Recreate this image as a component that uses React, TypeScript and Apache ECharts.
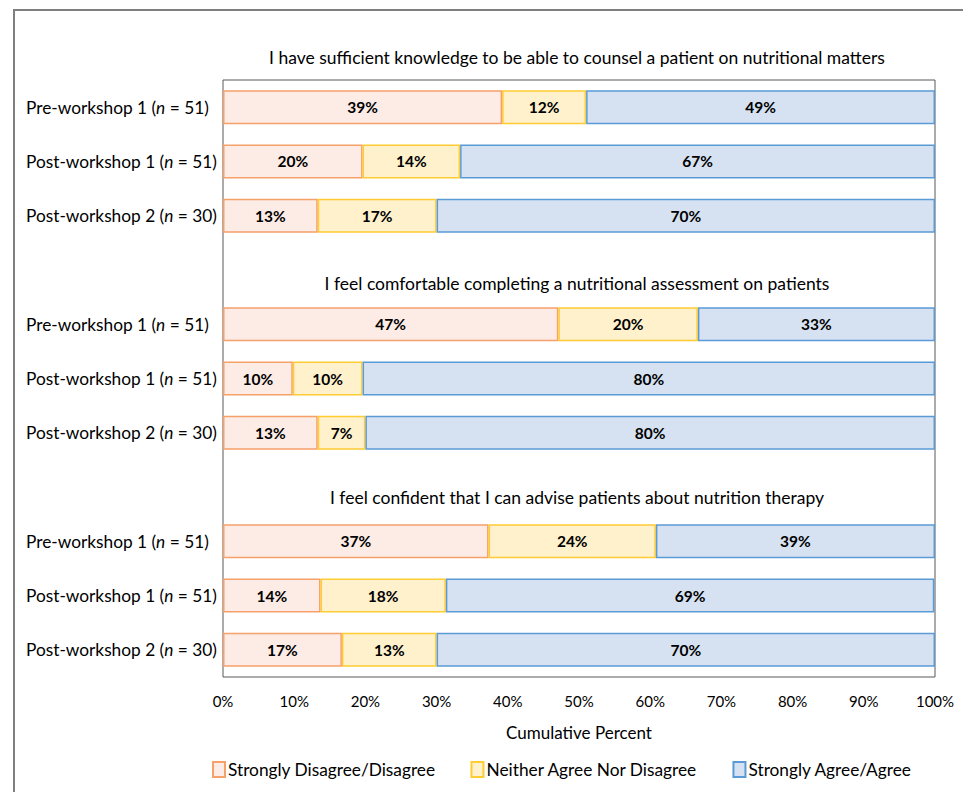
import React, { useEffect, useRef } from "react";
import * as echarts from "echarts";

const questions = [
  "I have sufficient knowledge to be able to counsel a patient on nutritional matters",
  "I feel comfortable completing a nutritional assessment on patients",
  "I feel confident that I can advise patients about nutrition therapy",
];
const groupNames = ["Pre-workshop 1", "Post-workshop 1", "Post-workshop 2"];
const sampleSizes = [51, 51, 30];
const seriesNames = ["Strongly Disagree/Disagree", "Neither Agree Nor Disagree", "Strongly Agree/Agree"];
// [question][group]
const disagree = [
  [39.2, 19.6, 13.3],
  [47.1, 9.8, 13.3],
  [37.3, 13.7, 16.7],
];
const neutral = [
  [11.8, 13.7, 16.7],
  [19.6, 9.8, 6.7],
  [23.5, 17.6, 13.3],
];
const agree = [
  [49.0, 66.7, 70.0],
  [33.3, 80.4, 80.0],
  [39.2, 68.6, 70.0],
];
const xTicks = [0, 10, 20, 30, 40, 50, 60, 70, 80, 90, 100];

const FONT = "Lato, 'Open Sans', sans-serif";

export default function App() {
  const ref = useRef<HTMLDivElement>(null);
  useEffect(() => {
    if (!ref.current) return;
    const chart = echarts.init(ref.current, undefined, { renderer: "svg" });

    const cats: string[] = [];
    const labelMap: Record<string, { g: string; n: number } | null> = {};
    const build = (arr: number[][]) => {
      const out: (number | string)[] = [];
      arr.forEach((row, q) => {
        row.forEach((v) => out.push(v));
        if (q < arr.length - 1) out.push("-");
      });
      return out;
    };
    questions.forEach((_, q) => {
      groupNames.forEach((g, r) => {
        const key = `q${q}r${r}`;
        cats.push(key);
        labelMap[key] = { g, n: sampleSizes[r] };
      });
      if (q < questions.length - 1) {
        const key = `gap${q}`;
        cats.push(key);
        labelMap[key] = null;
      }
    });

    const fills = ["#FDEBE5", "#FEF1CB", "#D6E2F2"];
    const borders = ["#F6A06A", "#FFCC33", "#5B9BD5"];
    const datasets = [disagree, neutral, agree];

    const titleY = [57, 283, 497];

    chart.setOption({
      animation: false,
      textStyle: { fontFamily: FONT },
      grid: {
        left: 223,
        right: 28,
        top: 80,
        bottom: 115,
        show: true,
        borderColor: "#595959",
        borderWidth: 1,
        backgroundColor: "transparent",
      },
      xAxis: {
        type: "value",
        min: 0,
        max: 100,
        interval: 10,
        axisLine: { show: false },
        axisTick: { show: false },
        splitLine: { show: false },
        axisLabel: {
          formatter: (v: number) => (xTicks.includes(v) ? `${v}%` : ""),
          fontSize: 15,
          color: "#000",
          margin: 16,
          fontFamily: FONT,
        },
        name: "Cumulative Percent",
        nameLocation: "middle",
        nameGap: 47,
        nameTextStyle: { fontSize: 17, color: "#000", fontFamily: FONT },
      },
      yAxis: {
        type: "category",
        inverse: true,
        data: cats,
        axisLine: { show: false },
        axisTick: { show: false },
        splitLine: { show: false },
        axisLabel: {
          interval: 0,
          align: "left",
          margin: 197,
          fontSize: 17.3,
          color: "#000",
          fontFamily: FONT,
          formatter: (key: string) => {
            const m = labelMap[key];
            if (!m) return "";
            return `${m.g} ({i|n} = ${m.n})`;
          },
          rich: {
            i: { fontStyle: "italic", fontSize: 17.3, color: "#000", fontFamily: FONT },
          },
        },
      },
      legend: {
        bottom: 9,
        left: 207,
        itemGap: 35,
        itemWidth: 12,
        itemHeight: 15,
        icon: "rect",
        textStyle: { fontSize: 17.3, color: "#000", fontFamily: FONT, padding: [0, 0, 0, -2] },
        data: seriesNames,
      },
      graphic: [
        {
          type: "rect",
          shape: { x: 14, y: 10, width: 1200, height: 1000 },
          style: { fill: "none", stroke: "#7F7F7F", lineWidth: 2 },
          silent: true,
        },
        ...questions.map((t, i) => ({
          type: "text",
          x: 577,
          y: titleY[i],
          style: {
            text: t,
            textAlign: "center",
            textVerticalAlign: "middle",
            fontSize: 17.5,
            fontFamily: FONT,
            fill: "#000",
          },
        })),
      ],
      series: seriesNames.map((name, i) => ({
        name,
        type: "bar",
        stack: "total",
        barWidth: 34,
        data: build(datasets[i]),
        itemStyle: { color: fills[i], borderColor: borders[i], borderWidth: 1.5 },
        label: {
          show: true,
          position: "inside",
          formatter: (p: any) => `${Math.round(p.value)}%`,
          fontSize: 15.5,
          fontWeight: "bold",
          color: "#000",
          fontFamily: FONT,
        },
      })),
    });
    return () => chart.dispose();
  }, []);
  return (
    <div
      ref={ref}
      style={{ position: "absolute", left: 0, top: 0, width: 963, height: 792 }}
    />
  );
}
